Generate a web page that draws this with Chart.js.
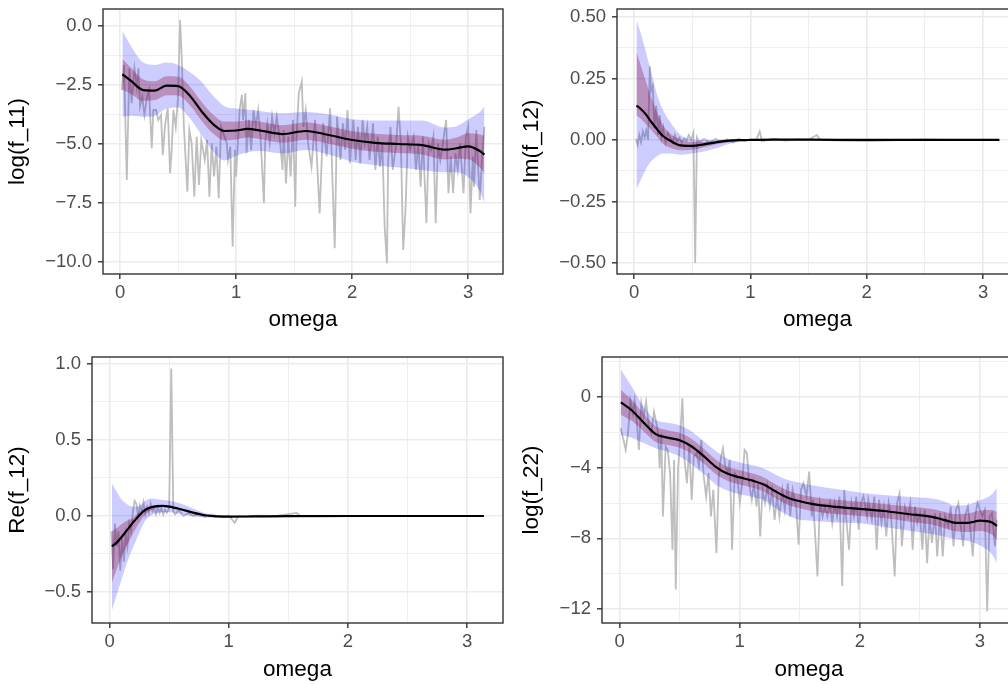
<!DOCTYPE html>
<html>
<head>
<meta charset="utf-8">
<script src="https://cdn.jsdelivr.net/npm/chart.js@4.4.0/dist/chart.umd.min.js"></script>
<style>
  html, body { margin: 0; padding: 0; background: #fff; width: 1008px; height: 684px; overflow: hidden; }
  canvas { position: absolute; }
</style>
</head>
<body>
<canvas id="p1"></canvas>
<canvas id="p2"></canvas>
<canvas id="p3"></canvas>
<canvas id="p4"></canvas>
<script>
/* ---------- axis ticks ---------- */
const xMajor = [0, 1, 2, 3];
const xLabels = ["0", "1", "2", "3"];
const xMinor = [0.5, 1.5, 2.5];

const y1Major = [0, -2.5, -5, -7.5, -10];
const y1Labels = ["0.0", "\u22122.5", "\u22125.0", "\u22127.5", "\u221210.0"];
const y1Minor = [-1.25, -3.75, -6.25, -8.75];

const y2Major = [0.5, 0.25, 0, -0.25, -0.5];
const y2Labels = ["0.50", "0.25", "0.00", "\u22120.25", "\u22120.50"];
const y2Minor = [0.375, 0.125, -0.125, -0.375];

const y3Major = [1, 0.5, 0, -0.5];
const y3Labels = ["1.0", "0.5", "0.0", "\u22120.5"];
const y3Minor = [0.75, 0.25, -0.25];

const y4Major = [0, -4, -8, -12];
const y4Labels = ["0", "\u22124", "\u22128", "\u221212"];
const y4Minor = [2, -2, -6, -10];

/* ---------- panel 1 : log(f_11) ---------- */
const gx1 = [
  0.015,0.034,0.058,0.08,0.1,0.124,0.144,0.158,0.172,0.192,
  0.21,0.23,0.25,0.273,0.287,0.31,0.33,0.353,0.368,0.388,
  0.411,0.431,0.445,0.46,0.48,0.5,0.517,0.53,0.55,0.58,
  0.597,0.617,0.64,0.66,0.68,0.7,0.73,0.75,0.77,0.79,
  0.81,0.83,0.85,0.87,0.9,0.92,0.93,0.95,0.97,0.99,
  1.0,1.03,1.05,1.06,1.08,1.09,1.11,1.13,1.15,1.17,
  1.19,1.21,1.24,1.25,1.27,1.29,1.31,1.33,1.35,1.38,
  1.4,1.41,1.43,1.45,1.47,1.49,1.51,1.52,1.54,1.566,
  1.58,1.6,1.62,1.65,1.68,1.72,1.75,1.78,1.81,1.85,
  1.87,1.9,1.92,1.94,1.96,1.98,2.01,2.03,2.05,2.07,
  2.09,2.11,2.13,2.15,2.18,2.2,2.22,2.24,2.26,2.28,
  2.3,2.31,2.33,2.35,2.38,2.4,2.42,2.44,2.46,2.48,
  2.5,2.53,2.55,2.57,2.59,2.61,2.64,2.66,2.68,2.7,
  2.72,2.74,2.76,2.79,2.81,2.83,2.85,2.87,2.89,2.91,
  2.93,2.96,2.98,3.0,3.02,3.04,3.05,3.07,3.1,3.12,
  3.14];
const gy1 = [
  -2.71,-1.65,-6.53,-1.79,-3.27,-1.79,-2.57,-1.79,-3.42,-3.0,
  -3.77,-3.07,-2.71,-5.18,-3.56,-3.56,-3.98,-3.77,-5.47,-4.19,
  -3.49,-6.24,-5.25,-3.56,-4.27,-3.0,0.25,-1.16,-4.27,-7.02,
  -4.41,-4.97,-7.23,-4.69,-6.74,-4.83,-5.68,-4.83,-7.23,-4.97,
  -6.38,-5.11,-7.3,-4.27,-4.69,-4.97,-5.68,-5.11,-9.35,-5.25,
  -6.38,-3.56,-2.92,-3.98,-2.85,-5.39,-3.98,-5.25,-3.56,-4.27,
  -3.56,-4.69,-7.51,-4.97,-4.12,-4.97,-3.84,-4.55,-3.84,-4.97,
  -6.1,-4.41,-6.67,-4.69,-6.38,-3.98,-7.66,-4.83,-2.85,-2.36,
  -4.27,-3.56,-4.97,-5.96,-3.98,-7.94,-4.12,-5.53,-3.49,-9.42,
  -3.84,-5.68,-4.12,-5.25,-3.56,-5.82,-3.98,-5.68,-4.27,-5.82,
  -3.98,-4.97,-4.27,-5.68,-4.12,-6.1,-4.69,-5.96,-4.97,-8.5,
  -10.06,-5.68,-4.27,-6.1,-4.97,-3.42,-4.97,-9.49,-7.8,-4.69,
  -5.25,-4.69,-6.1,-4.97,-6.81,-4.69,-8.36,-4.97,-5.25,-4.69,
  -8.36,-4.97,-5.68,-4.69,-3.98,-7.09,-5.53,-7.09,-5.39,-6.1,
  -4.97,-7.09,-4.69,-4.27,-7.94,-5.53,-6.81,-4.41,-7.37,-5.53,
  -4.27];
const sx1 = [0.02,0.1,0.2,0.3,0.4,0.5,0.6,0.7,0.8,0.9, 1.0,1.1,1.2,1.4,1.6,1.8,2.0,2.2,2.4,2.6, 2.8,2.9,3.0,3.1,3.14];
const fit1 = [-2.05,-2.35,-2.72,-2.74,-2.53,-2.55,-2.95,-3.6,-4.15,-4.45, -4.43,-4.36,-4.42,-4.58,-4.45,-4.62,-4.83,-4.95,-5.0,-5.05, -5.24,-5.18,-5.1,-5.3,-5.45];
const redHi1 = [-1.4,-1.8,-2.27,-2.34,-2.13,-2.15,-2.55,-3.2,-3.75,-4.05, -4.05,-3.99,-4.05,-4.21,-4.08,-4.25,-4.46,-4.57,-4.62,-4.65, -4.82,-4.73,-4.55,-4.6,-4.65];
const redLo1 = [-2.7,-2.9,-3.17,-3.14,-2.93,-2.95,-3.35,-4.0,-4.55,-4.85, -4.81,-4.73,-4.79,-4.95,-4.82,-4.99,-5.2,-5.33,-5.38,-5.45, -5.66,-5.63,-5.65,-6.0,-6.25];
const blueHi1 = [-0.2,-0.9,-1.55,-1.65,-1.55,-1.65,-1.95,-2.35,-2.95,-3.4, -3.5,-3.55,-3.6,-3.7,-3.65,-3.75,-3.95,-4.0,-4.0,-4.0, -4.3,-4.25,-3.95,-3.65,-3.4];
const blueLo1 = [-3.85,-3.8,-3.85,-3.8,-3.5,-3.45,-3.9,-4.6,-5.3,-5.7, -5.5,-5.35,-5.3,-5.4,-5.25,-5.45,-5.75,-5.9,-6.0,-6.1, -6.2,-6.2,-6.4,-7.0,-7.5];

/* ---------- panel 2 : Im(f_12) ---------- */
const gx2 = [0.015,0.03,0.045,0.06,0.075,0.09,0.105,0.12,0.135,0.145, 0.16,0.175,0.19,0.205,0.22,0.235,0.25,0.27,0.29,0.31, 0.33,0.35,0.37,0.39,0.41,0.43,0.45,0.47,0.49,0.51, 0.525,0.54,0.56,0.6,0.65,0.7,0.75,0.8,0.85,0.9, 0.95,1.0,1.05,1.08,1.1,1.2,1.3,1.4,1.5,1.57, 1.6,1.8,2.0,2.2,2.5,2.8,3.14];
const gy2 = [0.005,-0.02,0.02,-0.01,0.035,0.01,0.04,0.0,0.3,0.2, 0.22,0.05,0.14,0.02,0.1,0.01,0.05,-0.01,0.03,0.01, -0.01,0.02,-0.005,0.01,-0.01,0.005,-0.005,0.02,0.0,0.03, -0.5,0.01,-0.01,0.005,-0.01,0.005,-0.008,0.003,-0.01,0.005, -0.005,0.002,0.0,0.035,-0.005,0.005,-0.003,0.002,0.0,0.02, 0.0,-0.003,-0.005,-0.002,0.002,-0.001,0.0];
const sx2 = [0.02,0.06,0.1,0.15,0.2,0.25,0.3,0.4,0.5,0.6, 0.7,0.8,0.9,1.0,1.2,1.5,2.0,2.5,3.0,3.14];
const fit2 = [0.14,0.125,0.105,0.072,0.042,0.015,0.0,-0.022,-0.024,-0.018, -0.01,-0.004,-0.001,0.0,0.001,0.001,0.0,0.0,0.0,0.0];
const redHi2 = [0.36,0.3,0.24,0.17,0.11,0.06,0.03,0.0,-0.008,-0.008, -0.004,0.0,0.001,0.001,0.001,0.001,0.0,0.0,0.0,0.0];
const redLo2 = [0.1,0.085,0.065,0.04,0.012,-0.015,-0.03,-0.042,-0.04,-0.03, -0.018,-0.01,-0.004,-0.001,0.0,0.0,0.0,0.0,0.0,0.0];
const blueHi2 = [0.49,0.43,0.36,0.27,0.18,0.12,0.08,0.02,0.003,0.0, 0.0,0.004,0.003,0.002,0.001,0.001,0.0,0.0,0.0,0.0];
const blueLo2 = [-0.2,-0.16,-0.12,-0.085,-0.065,-0.055,-0.055,-0.06,-0.055,-0.047, -0.035,-0.018,-0.008,-0.004,-0.002,-0.001,0.0,0.0,0.0,0.0];

/* ---------- panel 3 : Re(f_12) ---------- */
const gx3 = [0.015,0.03,0.045,0.06,0.075,0.09,0.105,0.12,0.135,0.15, 0.165,0.18,0.195,0.21,0.225,0.24,0.255,0.27,0.285,0.3, 0.315,0.33,0.345,0.36,0.375,0.39,0.405,0.42,0.435,0.45, 0.465,0.48,0.5,0.518,0.535,0.55,0.58,0.62,0.66,0.7, 0.75,0.8,0.85,0.9,0.95,1.0,1.05,1.08,1.15,1.25, 1.4,1.57,1.6,1.8,2.2,2.6,3.14];
const gy3 = [-0.1,-0.35,-0.05,-0.2,-0.1,-0.36,-0.15,-0.3,-0.12,-0.2, -0.05,-0.1,0.02,0.1,0.08,0.0,0.07,0.03,0.09,0.01, 0.06,0.02,0.08,0.03,0.05,0.01,0.06,0.02,0.05,0.01, 0.04,0.02,0.05,0.97,0.03,0.01,0.04,0.0,0.02,0.0, 0.01,-0.005,0.01,0.0,-0.005,0.003,-0.045,0.0,-0.005,0.003, 0.0,0.02,0.0,-0.002,0.0,0.0,0.0];
const sx3 = [0.02,0.06,0.1,0.15,0.2,0.25,0.3,0.35,0.4,0.45, 0.5,0.6,0.7,0.8,0.9,1.0,1.2,1.5,2.0,2.5, 3.0,3.14];
const fit3 = [-0.2,-0.175,-0.14,-0.09,-0.04,0.005,0.04,0.058,0.065,0.066, 0.062,0.044,0.022,0.005,-0.003,-0.004,-0.003,-0.001,0.0,0.0, 0.0,0.0];
const redHi3 = [-0.1,-0.08,-0.055,-0.03,-0.01,0.03,0.055,0.068,0.072,0.072, 0.068,0.05,0.026,0.008,0.0,-0.002,-0.002,0.0,0.0,0.0, 0.0,0.0];
const redLo3 = [-0.44,-0.35,-0.27,-0.19,-0.11,-0.045,0.01,0.04,0.055,0.058, 0.054,0.037,0.017,0.002,-0.006,-0.006,-0.004,-0.002,0.0,0.0, 0.0,0.0];
const blueHi3 = [0.215,0.16,0.11,0.075,0.06,0.065,0.1,0.115,0.11,0.105, 0.1,0.08,0.05,0.02,0.005,0.0,-0.001,0.0,0.0,0.0, 0.0,0.0];
const blueLo3 = [-0.62,-0.52,-0.42,-0.3,-0.2,-0.11,-0.03,0.005,0.02,0.025, 0.025,0.012,0.0,-0.01,-0.01,-0.008,-0.005,-0.002,0.0,0.0, 0.0,0.0];

/* ---------- panel 4 : log(f_22) ---------- */
const gx4 = [
  0.008,0.028,0.05,0.07,0.089,0.11,0.125,0.144,0.16,0.18,
  0.2,0.22,0.244,0.264,0.286,0.306,0.32,0.333,0.347,0.36,
  0.383,0.4,0.42,0.44,0.453,0.467,0.486,0.506,0.522,0.54,
  0.56,0.58,0.6,0.617,0.64,0.66,0.68,0.7,0.72,0.74,
  0.76,0.78,0.806,0.825,0.84,0.86,0.88,0.9,0.917,0.936,
  0.958,0.978,1.0,1.02,1.04,1.06,1.078,1.1,1.117,1.14,
  1.153,1.17,1.19,1.21,1.23,1.25,1.27,1.29,1.31,1.33,
  1.355,1.375,1.4,1.42,1.44,1.47,1.49,1.51,1.53,1.556,
  1.578,1.6,1.61,1.625,1.647,1.667,1.69,1.708,1.73,1.75,
  1.77,1.79,1.81,1.83,1.853,1.87,1.89,1.91,1.93,1.95,
  1.97,1.99,2.01,2.03,2.06,2.07,2.1,2.12,2.14,2.16,
  2.18,2.2,2.22,2.24,2.26,2.29,2.31,2.33,2.35,2.375,
  2.4,2.42,2.44,2.458,2.478,2.5,2.52,2.54,2.56,2.58,
  2.6,2.625,2.644,2.667,2.69,2.71,2.736,2.756,2.78,2.8,
  2.82,2.84,2.86,2.875,2.9,2.92,2.94,2.96,2.98,3.0,
  3.02,3.04,3.06,3.08,3.1,3.125,3.14];
const gy4 = [
  -1.77,-2.3,-2.99,-2.05,-0.17,-0.92,-0.17,-1.49,-2.99,-0.36,
  -1.11,-0.26,-1.68,-2.05,-0.84,-1.49,-2.05,-4.03,-2.05,-6.76,
  -2.81,-2.99,-4.31,-8.64,-3.56,-10.9,-4.12,-2.05,-0.07,-3.56,
  -4.88,-2.81,-5.82,-3.37,-3.18,-3.93,-2.43,-4.5,-5.65,-4.31,
  -6.76,-5.25,-8.83,-4.5,-3.56,-2.9,-3.93,-4.31,-3.56,-8.64,
  -4.31,-4.5,-5.99,-4.88,-2.99,-3.18,-4.88,-5.82,-4.88,-6.2,
  -4.88,-7.89,-5.25,-5.99,-5.06,-6.2,-5.25,-6.95,-5.65,-6.76,
  -5.25,-6.39,-4.88,-6.76,-5.25,-6.2,-8.36,-5.25,-4.88,-5.63,
  -4.22,-6.76,-5.82,-7.51,-10.15,-5.99,-6.76,-6.2,-6.76,-5.99,
  -7.14,-5.99,-6.76,-5.63,-10.7,-5.25,-7.14,-8.64,-5.99,-6.76,
  -5.63,-7.51,-5.99,-5.63,-6.76,-5.82,-6.95,-5.63,-8.64,-5.82,
  -7.14,-6.2,-7.89,-5.99,-6.76,-10.15,-5.99,-5.45,-8.45,-6.2,
  -6.76,-5.99,-8.64,-6.2,-7.14,-6.58,-8.64,-6.39,-9.4,-6.76,
  -8.26,-6.58,-9.02,-6.58,-9.02,-6.76,-7.33,-6.2,-8.45,-6.39,
  -5.99,-7.33,-8.45,-6.76,-6.2,-7.51,-9.02,-6.76,-5.99,-6.39,
  -6.76,-6.39,-12.13,-6.76,-6.58,-8.45,-6.95];
const sx4 = [0.01,0.1,0.2,0.3,0.4,0.5,0.6,0.7,0.8,0.9, 1.0,1.1,1.2,1.3,1.4,1.5,1.6,1.8,2.0,2.2, 2.4,2.6,2.7,2.8,2.9,3.0,3.1,3.14];
const fit4 = [-0.3,-0.75,-1.45,-2.1,-2.3,-2.45,-2.8,-3.35,-3.95,-4.35, -4.55,-4.72,-4.95,-5.35,-5.7,-5.9,-6.05,-6.22,-6.33,-6.45, -6.62,-6.78,-6.95,-7.12,-7.12,-7.0,-7.1,-7.3];
const redHi4 = [0.4,-0.15,-0.95,-1.65,-1.88,-2.03,-2.38,-2.93,-3.53,-3.95, -4.15,-4.32,-4.55,-4.95,-5.3,-5.5,-5.65,-5.82,-5.93,-6.05, -6.2,-6.34,-6.49,-6.64,-6.6,-6.42,-6.4,-6.5];
const redLo4 = [-1.0,-1.35,-1.95,-2.55,-2.72,-2.87,-3.22,-3.77,-4.37,-4.75, -4.95,-5.12,-5.35,-5.75,-6.1,-6.3,-6.45,-6.62,-6.73,-6.85, -7.04,-7.22,-7.41,-7.6,-7.64,-7.58,-7.8,-8.1];
const blueHi4 = [1.56,0.6,-0.55,-1.3,-1.45,-1.6,-1.95,-2.5,-3.05,-3.5, -3.7,-3.85,-4.05,-4.4,-4.7,-4.85,-5.0,-5.2,-5.4,-5.55, -5.65,-5.75,-5.9,-6.15,-6.1,-5.85,-5.5,-5.15];
const blueLo4 = [-2.15,-2.3,-2.6,-2.9,-3.1,-3.37,-3.8,-4.35,-4.95,-5.3, -5.5,-5.65,-5.85,-6.3,-6.7,-6.95,-7.0,-7.1,-7.15,-7.35, -7.55,-7.75,-7.9,-8.05,-8.15,-8.4,-8.9,-9.4];

/* ---------- drawing ---------- */
const FONT = "'Liberation Sans', Arial, sans-serif";
const BLUE = "rgba(0, 0, 255, 0.2)";
const RED = "rgba(139, 0, 40, 0.3)";

const pts = (xs, ys) => xs.map((x, i) => ({ x: x, y: ys[i] }));

function tickList(major, labels, minor) {
  return major.map((v, i) => ({ value: v, lab: labels[i], minor: false }))
    .concat(minor.map(v => ({ value: v, lab: "", minor: true })))
    .sort((a, b) => a.value - b.value);
}

// ggplot-like panel border, drawn over the data
const panelBorder = {
  id: "panelBorder",
  afterDatasetsDraw(chart) {
    const { ctx, chartArea: a } = chart;
    ctx.save();
    ctx.strokeStyle = "#333333";
    ctx.lineWidth = 1.4;
    ctx.strokeRect(a.left, a.top, a.right - a.left, a.bottom - a.top);
    ctx.restore();
  }
};

const grid = {
  color: "#EBEBEB",
  lineWidth: c => (c.tick && c.tick.minor ? 0.8 : 1.6),
  tickColor: c => (c.tick && c.tick.minor ? "rgba(0,0,0,0)" : "#333333"),
  tickWidth: 1.4,
  tickLength: 5
};

function makePanel(id, box, plot, p) {
  const cv = document.getElementById(id);
  cv.width = box.w;
  cv.height = box.h;
  cv.style.left = box.l + "px";
  cv.style.top = box.t + "px";

  const band = { pointRadius: 0, borderWidth: 0, borderColor: "rgba(0,0,0,0)", cubicInterpolationMode: "monotone" };

  return new Chart(cv, {
    type: "line",
    data: {
      datasets: [
        { data: pts(p.sx, p.fit), borderColor: "#000", borderWidth: 2.2, pointRadius: 0, cubicInterpolationMode: "monotone", fill: false, order: 1 },
        { ...band, data: pts(p.sx, p.redLo), fill: false, order: 2 },
        { ...band, data: pts(p.sx, p.redHi), fill: "-1", backgroundColor: RED, order: 2 },
        { ...band, data: pts(p.sx, p.blueLo), fill: false, order: 3 },
        { ...band, data: pts(p.sx, p.blueHi), fill: "-1", backgroundColor: BLUE, order: 3 },
        { data: pts(p.gx, p.gy), borderColor: "#BEBEBE", borderWidth: 1.8, pointRadius: 0, tension: 0, fill: false, order: 4 }
      ]
    },
    options: {
      responsive: false,
      animation: false,
      devicePixelRatio: 1,
      layout: { padding: { left: 0, top: plot.t - box.t, right: box.l + box.w - plot.r, bottom: 0 } },
      plugins: { legend: { display: false }, tooltip: { enabled: false } },
      scales: {
        x: {
          type: "linear", min: -0.147, max: 3.30,
          afterBuildTicks: s => { s.ticks = tickList(xMajor, xLabels, xMinor); },
          afterFit: s => { s.height = box.t + box.h - plot.b; s.paddingLeft = 0; s.paddingRight = 0; },
          ticks: { autoSkip: false, maxRotation: 0, padding: 3, color: "#4D4D4D", font: { family: FONT, size: 18.5 }, callback: (v, i, t) => t[i].lab },
          grid: grid,
          border: { display: false },
          title: { display: true, text: "omega", color: "#000", font: { family: FONT, size: 22.5 }, padding: { top: 0, bottom: p.xPad } }
        },
        y: {
          min: p.yMin, max: p.yMax,
          afterBuildTicks: s => { s.ticks = tickList(p.yMajor, p.yLabels, p.yMinor); },
          afterFit: s => { s.width = plot.l - box.l; s.paddingTop = 0; s.paddingBottom = 0; },
          ticks: { autoSkip: false, padding: 6, color: "#4D4D4D", font: { family: FONT, size: 18.5 }, callback: (v, i, t) => t[i].lab },
          grid: grid,
          border: { display: false },
          title: { display: true, text: p.yTitle, color: "#000", font: { family: FONT, size: 22.5 }, padding: { top: p.yPad, bottom: 0 } }
        }
      }
    },
    plugins: [panelBorder]
  });
}

makePanel("p1", { l: 0, t: 0, w: 510, h: 342 }, { l: 103, t: 9, r: 503, b: 274 }, {
  sx: sx1, fit: fit1, redLo: redLo1, redHi: redHi1, blueLo: blueLo1, blueHi: blueHi1, gx: gx1, gy: gy1,
  yMin: -10.51, yMax: 0.72, yMajor: y1Major, yLabels: y1Labels, yMinor: y1Minor,
  yTitle: "log(f_11)", yPad: 4.5, xPad: 8.5
});
makePanel("p2", { l: 510, t: 0, w: 515, h: 342 }, { l: 617, t: 9, r: 1018, b: 274 }, {
  sx: sx2, fit: fit2, redLo: redLo2, redHi: redHi2, blueLo: blueLo2, blueHi: blueHi2, gx: gx2, gy: gy2,
  yMin: -0.545, yMax: 0.5325, yMajor: y2Major, yLabels: y2Labels, yMinor: y2Minor,
  yTitle: "Im(f_12)", yPad: 8.5, xPad: 8.5
});
makePanel("p3", { l: 0, t: 342, w: 510, h: 342 }, { l: 92, t: 357, r: 503, b: 623 }, {
  sx: sx3, fit: fit3, redLo: redLo3, redHi: redHi3, blueLo: blueLo3, blueHi: blueHi3, gx: gx3, gy: gy3,
  yMin: -0.704, yMax: 1.046, yMajor: y3Major, yLabels: y3Labels, yMinor: y3Minor,
  yTitle: "Re(f_12)", yPad: 4.5, xPad: 0.5
});
makePanel("p4", { l: 510, t: 342, w: 515, h: 342 }, { l: 602, t: 357, r: 1016, b: 623 }, {
  sx: sx4, fit: fit4, redLo: redLo4, redHi: redHi4, blueLo: blueLo4, blueHi: blueHi4, gx: gx4, gy: gy4,
  yMin: -12.79, yMax: 2.264, yMajor: y4Major, yLabels: y4Labels, yMinor: y4Minor,
  yTitle: "log(f_22)", yPad: 8.5, xPad: 0.5
});
</script>
</body>
</html>
